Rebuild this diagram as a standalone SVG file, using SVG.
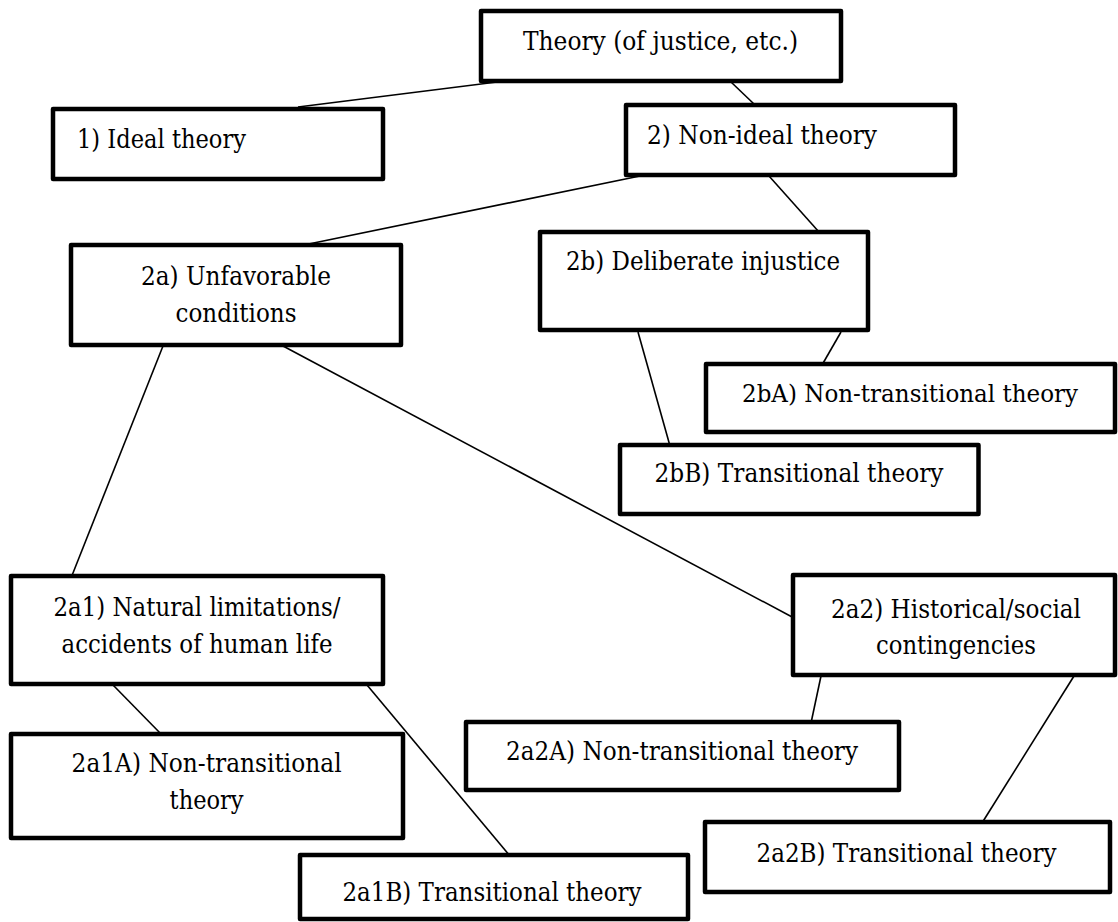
<svg xmlns="http://www.w3.org/2000/svg" width="1118" height="922" viewBox="0 0 1118 922">
<style>
.box{fill:#fff;stroke:#000;stroke-width:4.5;stroke-linejoin:round}
text{font-family:'DejaVu Serif','Liberation Serif',serif;font-size:26.5px;fill:#000;text-anchor:middle}
.con{stroke:#000;stroke-width:1.6;fill:none}
</style>
<rect width="1118" height="922" fill="#fff"/>
<g id="connectors">
<line class="con" x1="497" y1="82" x2="298" y2="107"/>
<line class="con" x1="731" y1="82" x2="754" y2="104"/>
<line class="con" x1="640" y1="176" x2="299" y2="246"/>
<line class="con" x1="769" y1="176" x2="819" y2="232"/>
<line class="con" x1="841" y1="332" x2="822" y2="365"/>
<line class="con" x1="638" y1="332" x2="670" y2="446"/>
<line class="con" x1="163" y1="346" x2="71" y2="578"/>
<line class="con" x1="283" y1="346" x2="794" y2="618"/>
<line class="con" x1="113" y1="685" x2="162" y2="735"/>
<line class="con" x1="367" y1="685" x2="510" y2="856"/>
<line class="con" x1="821" y1="676" x2="811" y2="723"/>
<line class="con" x1="1074" y1="676" x2="982" y2="823"/>
</g>
<g id="theory"><rect class="box" x="481" y="11" width="360" height="70"/><text x="660.5" y="50" textLength="275" lengthAdjust="spacingAndGlyphs">Theory (of justice, etc.)</text></g>
<g id="ideal"><rect class="box" x="53" y="109" width="330" height="70"/><text x="161.5" y="148" textLength="169" lengthAdjust="spacingAndGlyphs">1) Ideal theory</text></g>
<g id="nonideal"><rect class="box" x="626" y="105" width="329" height="70"/><text x="762" y="144" textLength="230" lengthAdjust="spacingAndGlyphs">2) Non-ideal theory</text></g>
<g id="n2a"><rect class="box" x="71" y="245" width="330" height="100"/><text x="236" y="285" textLength="190" lengthAdjust="spacingAndGlyphs">2a) Unfavorable</text><text x="236" y="322" textLength="121" lengthAdjust="spacingAndGlyphs">conditions</text></g>
<g id="n2b"><rect class="box" x="540" y="232" width="328" height="98"/><text x="703" y="270" textLength="274" lengthAdjust="spacingAndGlyphs">2b) Deliberate injustice</text></g>
<g id="n2bA"><rect class="box" x="706" y="364" width="409" height="68"/><text x="910" y="402" style="font-size:25px" textLength="336" lengthAdjust="spacingAndGlyphs">2bA) Non-transitional theory</text></g>
<g id="n2bB"><rect class="box" x="620" y="445" width="358.5" height="69"/><text x="799" y="482" textLength="289" lengthAdjust="spacingAndGlyphs">2bB) Transitional theory</text></g>
<g id="n2a1"><rect class="box" x="11" y="576" width="372" height="108"/><text x="197" y="616" textLength="287" lengthAdjust="spacingAndGlyphs">2a1) Natural limitations/</text><text x="197" y="653" textLength="271" lengthAdjust="spacingAndGlyphs">accidents of human life</text></g>
<g id="n2a2"><rect class="box" x="793" y="575" width="322" height="100"/><text x="956" y="618" textLength="250" lengthAdjust="spacingAndGlyphs">2a2) Historical/social</text><text x="956" y="654" textLength="160" lengthAdjust="spacingAndGlyphs">contingencies</text></g>
<g id="n2a1A"><rect class="box" x="11" y="734" width="392" height="104"/><text x="206.6" y="772" textLength="270" lengthAdjust="spacingAndGlyphs">2a1A) Non-transitional</text><text x="206.6" y="809" textLength="74" lengthAdjust="spacingAndGlyphs">theory</text></g>
<g id="n2a2A"><rect class="box" x="466" y="722" width="433" height="68"/><text x="682" y="760" textLength="352" lengthAdjust="spacingAndGlyphs">2a2A) Non-transitional theory</text></g>
<g id="n2a1B"><rect class="box" x="300" y="855" width="388" height="64"/><text x="492" y="901" textLength="299" lengthAdjust="spacingAndGlyphs">2a1B) Transitional theory</text></g>
<g id="n2a2B"><rect class="box" x="705" y="822" width="405" height="70"/><text x="906.5" y="862" textLength="300" lengthAdjust="spacingAndGlyphs">2a2B) Transitional theory</text></g>
</svg>
